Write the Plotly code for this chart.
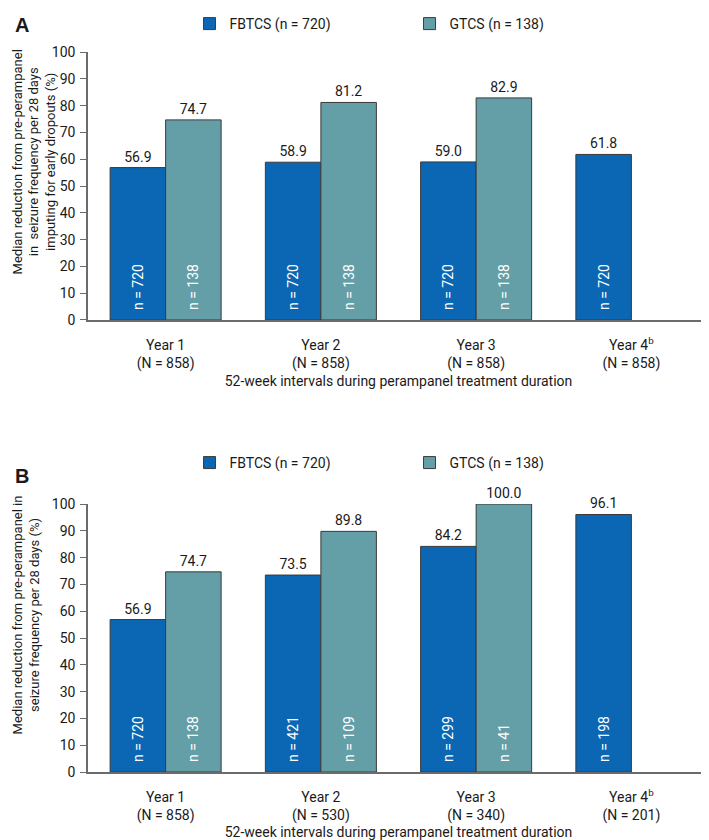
import plotly.graph_objects as go

years = ["Year 1", "Year 2", "Year 3", "Year 4<sup>b</sup>"]

# panel A: imputing for early dropouts
a_N = [858, 858, 858, 858]
a_fbtcs = [56.9, 58.9, 59.0, 61.8]
a_gtcs = [74.7, 81.2, 82.9, None]
a_n_fbtcs = [720, 720, 720, 720]
a_n_gtcs = [138, 138, 138, None]

# panel B: observed cases
b_N = [858, 530, 340, 201]
b_fbtcs = [56.9, 73.5, 84.2, 96.1]
b_gtcs = [74.7, 89.8, 100.0, None]
b_n_fbtcs = [720, 421, 299, 198]
b_n_gtcs = [138, 109, 41, None]

a_ytitle = "Median reduction from pre-perampanel<br>in  seizure frequency per 28 days<br>imputing for early dropouts (%)"
b_ytitle = "Median reduction from pre-perampanel in<br>seizure frequency per 28 days (%)"
x_title = "52-week intervals during perampanel treatment duration"

BLUE = "#0b67b3"
TEAL = "#649fa8"
FONT = "Roboto, sans-serif"
INK = "#1a1a1a"
NBSP = "\u00a0"

a_cats = [f"{y}<br>(N = {n})" for y, n in zip(years, a_N)]
b_cats = [f"{y}<br>(N = {n})" for y, n in zip(years, b_N)]

fig = go.Figure()


def add_pair(cats, vals, ns, name, color, xa, ya, grp, legend):
    # leading nbsp keeps the n label off the bar base like the original
    ntext = [NBSP * 2 + f"n = {n}" if n is not None else "" for n in ns]
    vtext = [f"{v:.1f}" if v is not None else "" for v in vals]
    # coloured bar with the n label inside
    fig.add_trace(go.Bar(
        x=cats, y=vals, name=name, marker_color=color,
        marker_line=dict(color="#3a3a3a", width=1),
        text=ntext, textposition="inside", textangle=-90,
        insidetextanchor="start",
        insidetextfont=dict(color="white", size=14, family=FONT),
        xaxis=xa, yaxis=ya, offsetgroup=grp, legend=legend,
    ))
    # transparent twin carrying the value label above the bar
    fig.add_trace(go.Bar(
        x=cats, y=vals, marker_color="rgba(0,0,0,0)",
        marker_line_width=0,
        text=vtext, textposition="outside", textangle=0,
        outsidetextfont=dict(color=INK, size=14, family=FONT),
        cliponaxis=False,
        xaxis=xa, yaxis=ya, offsetgroup=grp, showlegend=False,
        hoverinfo="skip",
    ))


add_pair(a_cats, a_fbtcs, a_n_fbtcs, "FBTCS (n = 720)", BLUE, "x", "y", "fa", "legend")
add_pair(a_cats, a_gtcs, a_n_gtcs, "GTCS (n = 138)", TEAL, "x", "y", "ga", "legend")
add_pair(b_cats, b_fbtcs, b_n_fbtcs, "FBTCS (n = 720)", BLUE, "x2", "y2", "fb", "legend2")
add_pair(b_cats, b_gtcs, b_n_gtcs, "GTCS (n = 138)", TEAL, "x2", "y2", "gb", "legend2")

xcommon = dict(
    showline=True, linecolor="#6b6b6b", linewidth=1.5, ticks="",
    showgrid=False, automargin=False, domain=[0, 1], ticklabelstandoff=11,
    tickfont=dict(size=14, color=INK, family=FONT),
    title=dict(text=x_title, font=dict(size=14, color=INK, family=FONT), standoff=5),
)
ycommon = dict(
    range=[0, 100], dtick=10, showline=True, linecolor="#6b6b6b", linewidth=1.5,
    ticks="outside", ticklen=6, tickcolor="#6b6b6b", showgrid=False,
    zeroline=False, automargin=False, ticklabelstandoff=2,
    tickfont=dict(size=14, color=INK, family=FONT),
)

legcommon = dict(
    orientation="h", x=0.1635, xanchor="left", yanchor="top",
    entrywidth=175, entrywidthmode="pixels",
    font=dict(size=14, color=INK, family=FONT),
    bgcolor="rgba(0,0,0,0)", itemclick=False,
)


def note(text, x, y, size=14, angle=0, family=FONT):
    return dict(text=text, xref="paper", yref="paper", x=x, y=y,
                xanchor="left", yanchor="middle", showarrow=False,
                textangle=angle, align="center",
                font=dict(size=size, family=family, color=INK))


# page body adds an 8px offset, so the figure is 8px smaller than the window
fig.update_layout(
    width=701, height=832,
    margin=dict(l=80, r=0, t=0, b=0),
    template="simple_white",
    plot_bgcolor="white", paper_bgcolor="white",
    barmode="group", bargap=0.285, bargroupgap=0,
    font=dict(family=FONT, color=INK),
    xaxis=dict(xcommon, anchor="y"),
    yaxis=dict(ycommon, anchor="x", domain=[0.625, 0.947]),
    xaxis2=dict(xcommon, anchor="y2"),
    yaxis2=dict(ycommon, anchor="x2", domain=[0.0817, 0.4038]),
    legend=dict(legcommon, y=1.0),
    legend2=dict(legcommon, y=0.4724),
    annotations=[
        note("<b>A</b>", -0.1208, 0.979, size=20, family="Liberation Sans, Arial, sans-serif"),
        note("<b>B</b>", -0.1208, 0.4374, size=20, family="Liberation Sans, Arial, sans-serif"),
        note(a_ytitle, -0.1288, 0.815, size=13, angle=-90),
        note(b_ytitle, -0.1288, 0.27, size=13, angle=-90),
    ],
)

fig.write_html("out.html")
